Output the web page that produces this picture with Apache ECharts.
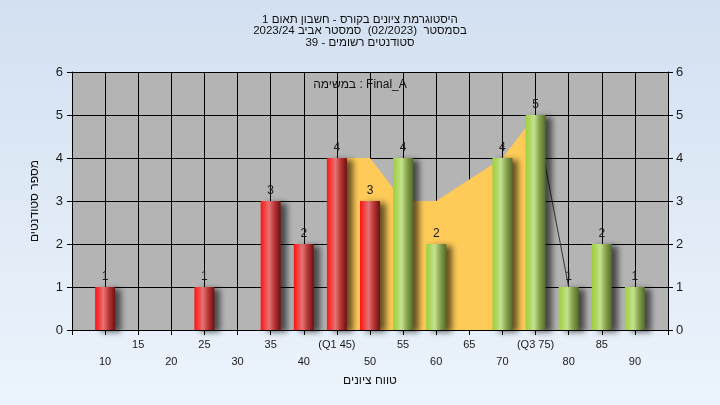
<!DOCTYPE html>
<html>
<head>
<meta charset="utf-8">
<script src="https://cdn.jsdelivr.net/npm/echarts@6/dist/echarts.min.js"></script>
<style>
html,body{margin:0;padding:0;}
#c{width:720px;height:405px;}
</style>
</head>
<body>
<div id="c"></div>
<script>
// ---- data ----
var categories = ['5','10','15','20','25','30','35','40','45','50','55','60','65','70','75','80','85','90','95'];
var tickLabels = ['','10','15','20','25','30','35','40','(Q1 45)','50','55','60','65','70','(Q3 75)','80','85','90',''];
var counts     = [0,1,0,0,1,0,3,2,4,3,4,2,0,4,5,1,2,1,0];
var greenFromCategory = 55;
var quartileArea = [null,null,null,null,null,null,null,null,4,4,3,3,3.5,4,5,null,null,null,null];
var tailLine     = [null,null,null,null,null,null,null,null,null,null,null,null,null,null,5,1,null,null,null];
var titleLines = ['היסטוגרמת ציונים בקורס - חשבון תאום 1', 'בסמסטר  (02/2023)  סמסטר אביב 2023/24', 'סטודנטים רשומים - 39'];
var taskLabel = 'במשימה : Final_A';
var yName = 'מספר סטודנטים';
var xName = 'טווח ציונים';

var FONT = 'Liberation Sans, Arial, DejaVu Sans, sans-serif';
var redGrad = new echarts.graphic.LinearGradient(0,0,1,0,[
  {offset:0,color:'#ff1414'},{offset:0.18,color:'#f53a3a'},{offset:0.42,color:'#e57373'},
  {offset:0.7,color:'#b53434'},{offset:1,color:'#6e1010'}]);
var greenGrad = new echarts.graphic.LinearGradient(0,0,1,0,[
  {offset:0,color:'#9dd040'},{offset:0.2,color:'#aed65e'},{offset:0.42,color:'#c6e190'},
  {offset:0.7,color:'#86a24c'},{offset:1,color:'#536b2a'}]);

var barData = counts.map(function(v,i){
  if(!v) return null;
  var green = Number(categories[i]) >= greenFromCategory;
  return {value:v, itemStyle:{color: green ? greenGrad : redGrad}};
});

var chart = echarts.init(document.getElementById('c'), null, {renderer:'canvas'});
chart.setOption({
  animation:false,
  backgroundColor: new echarts.graphic.LinearGradient(0,0,0,1,[{offset:0,color:'#d3e0f1'},{offset:1,color:'#ecf4fc'}]),
  title:{
    text: titleLines.join('\n'),
    left:'center', top:9,
    textStyle:{fontSize:11.5, lineHeight:11.5, fontWeight:'normal', color:'#111', fontFamily:FONT}
  },
  graphic:[{
    type:'text', left:'center', top:79, z:10,
    style:{text:taskLabel, fontSize:12, fill:'#111', font:'12px '+FONT}
  }],
  grid:{left:72, right:52, top:72, bottom:75, show:true, backgroundColor:'#b4b4b4', borderWidth:0},
  xAxis:{
    type:'category', data:categories, boundaryGap:false,
    name:xName, nameLocation:'middle', nameGap:45,
    nameTextStyle:{fontSize:12, color:'#111', fontFamily:FONT},
    axisLine:{lineStyle:{color:'#000', width:1}},
    axisTick:{show:true, interval:0, length:5, lineStyle:{color:'#000'}},
    splitLine:{show:true, interval:0, lineStyle:{color:'#000', width:1}},
    axisLabel:{interval:0, fontSize:11, lineHeight:17, margin:6, color:'#1a1a1a', fontFamily:FONT,
      formatter:function(v,i){ return (i%2===1) ? '\n'+tickLabels[i] : tickLabels[i]; }}
  },
  yAxis:[{
    type:'value', min:0, max:6, interval:1, position:'left',
    name:yName, nameLocation:'middle', nameGap:31,
    nameTextStyle:{fontSize:12, color:'#111', fontFamily:FONT},
    axisLine:{show:true, lineStyle:{color:'#000'}},
    axisTick:{show:true, length:5, lineStyle:{color:'#000'}},
    splitLine:{show:true, lineStyle:{color:'#000', width:1}},
    axisLabel:{fontSize:13, margin:9, color:'#1a1a1a', fontFamily:FONT}
  },{
    type:'value', min:0, max:6, interval:1, position:'right',
    axisLine:{show:true, lineStyle:{color:'#000'}},
    axisTick:{show:true, length:5, lineStyle:{color:'#000'}},
    splitLine:{show:false},
    axisLabel:{fontSize:13, margin:8, color:'#1a1a1a', fontFamily:FONT}
  }],
  series:[{
    type:'line', data:quartileArea, symbol:'none', connectNulls:false, z:1,
    lineStyle:{width:0}, areaStyle:{color:'#ffcb58', opacity:1}
  },{
    type:'line', data:tailLine, symbol:'none', z:2,
    lineStyle:{width:1, color:'#333'}
  },{
    type:'bar', data:barData, barWidth:20, z:3,
    itemStyle:{shadowColor:'rgba(0,0,0,0.6)', shadowBlur:6, shadowOffsetX:6, shadowOffsetY:2},
    label:{show:true, position:'top', distance:4, fontSize:12, color:'#1a1a1a', fontFamily:FONT}
  }]
});
</script>
</body>
</html>
